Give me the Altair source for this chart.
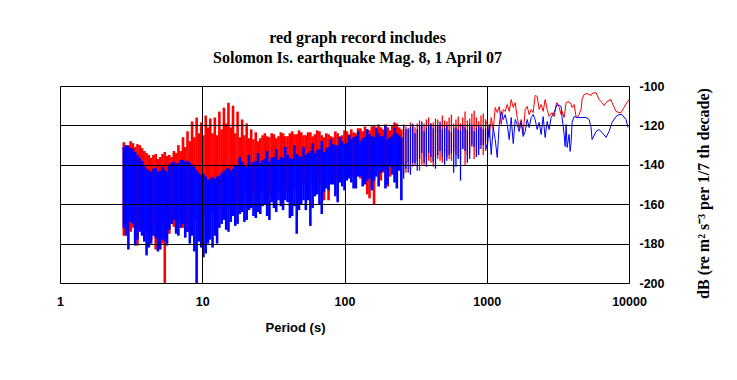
import altair as alt
import numpy as np
import pandas as pd

# ---------------- data ----------------
# dense part: spike columns on an even log grid between these periods (s)
DENSE_START = 2.81
DENSE_END = 945.0

red_tops = [
    -128.5, -130, -129, -129.5, -131.5, -134, -136.5, -134.5, -136, -133.5,
    -135, -133, -130, -126, -123, -118, -116, -118.5, -115, -116.5,
    -116, -113, -111, -108.5, -110, -113, -117, -119, -122, -123.5,
    -126.5, -124, -126, -124.5, -125.5, -124, -125.5, -123, -124.5, -123.5,
    -125, -123.5, -124.5, -123, -126, -124.5, -126, -124, -125, -123,
    -122, -124, -121.5, -120.5, -122.5, -120, -119.5, -122, -121, -120,
    -119, -122, -120.5, -118.5, -121, -117.5, -119, -116, -118.5, -117,
    -115, -118, -114.5, -117, -119, -113, -116.5, -112.5, -118, -114,
]
red_bots = [
    -176, -168, -172, -181, -170, -174, -178, -183, -170, -200,
    -175, -171.5, -169, -172, -174, -165, -168, -164, -166, -163,
    -164, -162, -165, -160, -163, -158, -160, -156, -159, -155,
    -155, -153, -156, -152, -154, -152, -154, -150, -153, -149,
    -150, -148, -151, -149, -158, -158, -146, -148, -145, -144,
    -146, -143, -147, -142, -157, -160, -141, -144, -151, -140,
    -146, -140.5, -144, -142, -139, -143, -140, -138, -141, -137,
    -139, -136, -138, -135, -137, -140.5, -134, -137, -132, -135,
]
# columns half-way between the ones above
red_tops2 = [
    -130.5, -128, -131, -130, -133, -135, -135, -137, -134.5, -135.5,
    -136, -134, -133, -131, -128, -126, -124, -125, -121, -124,
    -125, -122, -119, -121, -124, -126, -125, -126.5, -127, -128,
    -125, -125.5, -124, -126.5, -123.5, -125.5, -124, -124.5, -122.5, -125,
    -123.5, -125.5, -122.5, -125, -124, -125.5, -123, -125.5, -122.5, -124.5,
    -123.5, -121.5, -123, -122, -120.5, -122, -121, -119.5, -122.5, -118.5,
    -121, -119.5, -122, -120, -119, -120.5, -117, -119, -116.5, -119.5,
    -117.5, -116, -119, -115.5, -116, -117.5, -114, -116, -115, -117,
]
red_bots2 = [
    -170, -174, -178, -169, -175, -172, -169, -176, -180, -171,
    -170, -174, -166, -168, -165, -167, -163, -166, -164, -165,
    -161, -164, -162, -163, -160, -161, -157, -158, -156, -157,
    -154, -156, -153, -155, -151, -153, -150, -152, -151, -150,
    -149, -150, -147, -150, -149, -146, -148, -145, -147, -144,
    -144, -145, -142, -155, -143, -141, -148, -142, -146, -139,
    -141, -144, -139, -141, -138, -140, -136, -139, -136, -138,
    -134, -137, -133, -136, -132, -135, -131, -134, -130, -133,
]
blue_tops = [
    -131, -130.5, -132, -135, -138, -142, -143.5, -141.5, -143, -142.5,
    -140, -138.5, -139, -137.5, -138, -140, -142.5, -145, -146, -147,
    -147, -145.5, -143, -141.5, -142, -140, -138.5, -141, -139.5, -138,
    -139, -137, -138.5, -136, -137.5, -136.5, -135, -137, -134.5, -136,
    -135, -133, -134, -132, -133.5, -131, -129.5, -130, -128, -129,
    -127, -125.5, -128, -126, -124.5, -126, -124, -125.5, -127, -125,
    -124, -126, -122, -121, -124, -120, -123, -119.5, -121.5, -120,
    -122, -120, -123.5, -121, -122.5, -121, -119, -123, -120, -122,
]
blue_bots = [
    -172, -183, -170, -178, -176, -186, -180, -177, -183, -179,
    -173, -168, -176, -170, -174, -176, -200, -182, -185, -178,
    -176, -172, -168, -174, -166, -170, -164, -168, -162, -167,
    -165, -160, -168, -162, -158, -163, -159, -166, -175, -160,
    -163, -171, -156, -160, -154, -153, -150, -159, -151, -148,
    -149, -152, -146, -150, -147, -148, -151, -143, -150, -145,
    -152, -158, -142, -145, -140, -137, -139, -134, -138.5, -135,
    -136, -138, -134, -141, -148, -133, -137, -131, -135, -130,
]
blue_tops2 = [
    -130, -131.5, -133.5, -136.5, -140, -143, -142, -143.5, -141, -143.5,
    -139, -139.5, -137.5, -138.5, -139, -141, -144, -144.5, -147.5, -146,
    -146, -144, -142, -143, -140.5, -136, -140, -135, -138.5, -134,
    -137.5, -133, -136.5, -132, -136, -131, -136.5, -130, -135.5, -131,
    -134, -129, -132.5, -128, -131.5, -127, -130, -126, -129.5, -125,
    -126, -123, -126.5, -122, -125.5, -121, -125.5, -120, -126, -121,
    -125, -120, -121.5, -119, -122, -118, -121, -119, -120.5, -118,
    -121, -122.5, -121.5, -122, -120, -122.5, -120.5, -121.5, -121, -121.5,
]
blue_bots2 = [
    -176, -169, -181, -174, -179, -182, -176, -184, -178, -181,
    -170, -175, -172, -177, -180, -184, -179, -187, -180, -182,
    -180, -170, -173, -169, -171, -165, -169, -163, -166, -164,
    -161, -166, -159, -164, -161, -158, -167, -161, -163, -158,
    -158, -162, -155, -165, -152, -150, -156, -149, -153, -147,
    -152, -146, -151, -148, -153, -146, -144, -152, -141, -149,
    -143, -147, -144, -139, -143, -134, -141, -136, -142, -133,
    -140, -135, -144, -137, -132, -139, -130, -136, -132, -128,
]

# long-period tails
red_tail_periods = [1008, 1041, 1075, 1111, 1147, 1185, 1224, 1264, 1306, 1348, 1393, 1439, 1486, 1535,
                    1585, 1637, 1691, 1746, 1804, 1863, 1924, 1987, 2053, 2120, 2189, 2262, 2336, 2412,
                    2492, 2573, 2658, 2745, 2881, 2977, 3074, 3124, 3227, 3333, 3387, 3499, 3614, 3793,
                    3917, 3981, 4112, 4248, 4316, 4458, 4605, 4680, 4834, 5074, 5412, 5500, 5868, 6158,
                    6465, 6677, 7009, 7475, 7597, 8108, 8509, 8788, 9224, 9679, 10000]
red_tail_db = [-119.5, -126.1, -116, -122.1, -110.9, -113.5, -110.4, -119.5, -111.9, -112.9, -109.4,
               -112.9, -106.9, -110.9, -108.4, -116, -121.1, -117, -124.6, -111.9, -110.4, -114.5,
               -111.9, -113.5, -104.8, -105.3, -111.9, -109.4, -112.9, -106.9, -111.9, -115.5, -113.5,
               -115.5, -109.4, -108.4, -110.9, -114.5, -112.9, -116, -108.4, -107.9, -109.4, -110.9,
               -109.4, -115.5, -116, -114.5, -111.9, -106.9, -104.3, -103.8, -104.8, -103.8, -103.3,
               -106.9, -108.4, -109.9, -107.9, -106.9, -108.4, -112.9, -113.5, -113.5, -110.9, -108.4,
               -106.9]
blue_tail_periods = [1008, 1041, 1075, 1111, 1147, 1185, 1224, 1264, 1306, 1348, 1393, 1439, 1486, 1535,
                     1585, 1637, 1691, 1746, 1804, 1863, 1924, 1987, 2053, 2120, 2189, 2262, 2336, 2412,
                     2492, 2573, 2658, 2745, 2835, 2977, 3124, 3333, 3387, 3499, 3556, 3614, 3672, 3793,
                     3854, 3917, 3981, 4112, 4316, 4605, 4993, 5241, 5412, 5500, 5868, 6158, 6465, 6897,
                     7237, 7597, 8108, 8509, 8930, 9527, 9840]
blue_tail_db = [-132.2, -119.5, -134.8, -121.1, -127.2, -136.3, -119.5, -112.9, -117, -114.5, -119.5,
                -127.2, -116, -129.2, -117, -119.5, -123.1, -118, -125.6, -123.1, -117, -121.1, -116,
                -114.5, -117, -122.1, -118.5, -124.6, -115.5, -126.1, -118, -122.1, -116, -113.5,
                -109.4, -110.4, -116, -124.6, -130.7, -119.5, -131.2, -124.6, -133.2, -128.7, -118.5,
                -115.5, -116, -116, -116, -117, -121.1, -127.2, -123.1, -122.1, -123.6, -126.1, -123.1,
                -118.5, -115.5, -114.5, -114.5, -117, -121.1]

x_ticks = [1, 10, 100, 1000, 10000]
y_ticks = [-200, -180, -160, -140, -120, -100]


# ---------------- tables ----------------
def columns_table(tops, bots, tops2, bots2):
    n = len(tops)
    p = np.geomspace(DENSE_START, DENSE_END, n)
    half = (DENSE_END / DENSE_START) ** (0.5 / (n - 1))
    return pd.DataFrame({
        "period": list(p) + list(p * half),
        "top": list(tops) + list(tops2),
        "bot": list(bots) + list(bots2),
    })


def tail_table(first_period, first_value, tail_p, tail_v):
    per = [first_period] + list(tail_p)
    val = [first_value] + list(tail_v)
    return pd.DataFrame({"period": per, "db": val, "i": range(len(per))})


red_cols = columns_table(red_tops, red_bots, red_tops2, red_bots2)
blue_cols = columns_table(blue_tops, blue_bots, blue_tops2, blue_bots2)
red_tail = tail_table(DENSE_END * 1.03, red_tops2[-1], red_tail_periods, red_tail_db)
blue_tail = tail_table(DENSE_END * 1.03, blue_bots2[-1], blue_tail_periods, blue_tail_db)

LABEL_FONT = "Liberation Sans, Arial"
SERIF = "Liberation Serif, Times New Roman"
RED = "#ff0000"
BLUE = "#0000ff"

x_enc = alt.X(
    "period:Q",
    scale=alt.Scale(type="log", domain=[1, 10000], nice=False),
    axis=alt.Axis(
        values=x_ticks, tickCount=10, format="d", title="Period  (s)", grid=True, ticks=False,
        labelPadding=12, labelFont=LABEL_FONT, labelFontSize=12.5, labelFontWeight="bold",
        labelColor="black", titleFont=LABEL_FONT, titleFontSize=13, titleFontWeight="bold",
        titleColor="black", titleX=235, titleY=44, titleAlign="center", titleBaseline="middle",
        domain=False, gridColor="black", gridOpacity=1, gridWidth=1, zindex=1,
        labelFlush=False, labelOverlap=False,
    ),
)
y_scale = alt.Scale(domain=[-200, -100], nice=False, zero=False)
y_axis = alt.Axis(
    orient="right", values=y_ticks, tickCount=10, labelExpr="toString(datum.value)",
    title="dB  (re m² s⁻³ per 1/7 th decade)", grid=True, ticks=False, labelPadding=10,
    labelFont=LABEL_FONT, labelFontSize=12.5, labelFontWeight="bold", labelColor="black",
    titleFont=SERIF, titleFontSize=16, titleFontWeight="bold", titleColor="black",
    titleAngle=270, titleX=74, titleY=107, titleAlign="center", titleBaseline="middle",
    domain=False, gridColor="black", gridOpacity=1, gridWidth=1, zindex=1,
    labelFlush=False, labelOverlap=False,
)

# wide strokes where the record is dense, thin ones where it thins out
col_width = alt.condition(alt.datum.period < 260, alt.value(2.6), alt.value(1.3))

red_rules = alt.Chart(red_cols).mark_rule(color=RED, clip=True).encode(
    x=x_enc, y=alt.Y("top:Q", scale=y_scale, axis=y_axis), y2="bot:Q", strokeWidth=col_width)
red_line = alt.Chart(red_tail).mark_line(color=RED, strokeWidth=1, clip=True).encode(
    x="period:Q", y="db:Q", order="i:Q")
blue_rules = alt.Chart(blue_cols).mark_rule(color=BLUE, clip=True).encode(
    x="period:Q", y="top:Q", y2="bot:Q", strokeWidth=col_width)
blue_line = alt.Chart(blue_tail).mark_line(color=BLUE, strokeWidth=1, clip=True).encode(
    x="period:Q", y="db:Q", order="i:Q")

chart = alt.layer(red_rules, red_line, blue_rules, blue_line).properties(
    width=569, height=197,
    autosize=alt.AutoSizeParams(type="none"),
    padding={"left": 52, "top": 78, "right": 100, "bottom": 90},
    title=alt.TitleParams(
        ["red graph record includes", "Solomon Is. earthquake Mag. 8, 1 April 07"],
        font=SERIF, fontSize=16, fontWeight="bold", color="black", anchor="middle",
        lineHeight=20.5, offset=14, dx=13,
    ),
).configure_view(stroke="black", strokeWidth=1).configure(background="white")

chart.save("out.html", embed_options={"renderer": "svg", "actions": False})
